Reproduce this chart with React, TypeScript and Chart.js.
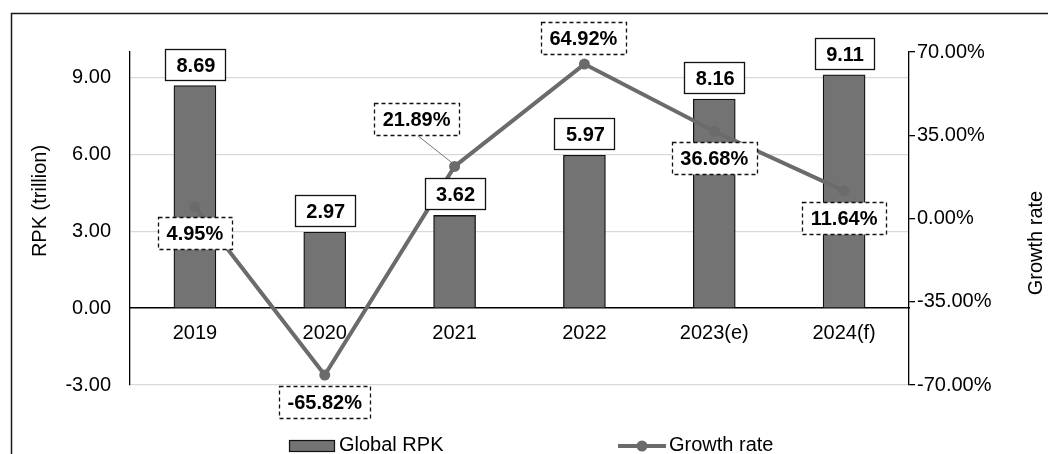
import { useEffect, useRef } from 'react';
import { Chart, registerables } from 'chart.js';

Chart.register(...registerables);

const categories = ['2019', '2020', '2021', '2022', '2023(e)', '2024(f)'];
const rpkValues = [8.69, 2.97, 3.62, 5.97, 8.16, 9.11];
const growthRates = [4.95, -65.82, 21.89, 64.92, 36.68, 11.64];
const rpkTicks = [-3, 0, 3, 6, 9];
const growthTicks = [-70, -35, 0, 35, 70];

const W = 1048;
const H = 454;
const FONT = "'Liberation Sans', Arial, sans-serif";
const BAR_COLOR = '#737373';
const LINE_COLOR = '#6b6b6b';

// Where each growth-rate callout sits, relative to its point (box centre offset in px)
const growthLabelOffsets = [
  { dx: 0, dy: 26, leader: false },
  { dx: 0, dy: 27, leader: false },
  { dx: -38, dy: -47, leader: true },
  { dx: -1, dy: -26, leader: false },
  { dx: 0, dy: 27, leader: false },
  { dx: 0, dy: 27, leader: false },
];

const framePlugin = {
  id: 'frame',
  beforeDraw(chart: any) {
    const ctx = chart.ctx;
    ctx.save();
    ctx.fillStyle = '#ffffff';
    ctx.fillRect(0, 0, W, H);
    ctx.strokeStyle = '#1a1a1a';
    ctx.lineWidth = 1.5;
    ctx.strokeRect(11.5, 13.5, W + 40, H + 40);
    ctx.restore();
  },
};

const titlesPlugin = {
  id: 'axisTitles',
  afterDraw(chart: any) {
    const ctx = chart.ctx;
    ctx.save();
    ctx.font = `20px ${FONT}`;
    ctx.fillStyle = '#000';
    ctx.textAlign = 'center';
    ctx.textBaseline = 'middle';

    ctx.save();
    ctx.translate(40, 201);
    ctx.rotate(-Math.PI / 2);
    ctx.fillText('RPK (trillion)', 0, 0);
    ctx.restore();

    ctx.save();
    ctx.translate(1036, 243);
    ctx.rotate(-Math.PI / 2);
    ctx.fillText('Growth rate', 0, 0);
    ctx.restore();

    ctx.restore();
  },
};

const legendPlugin = {
  id: 'bottomLegend',
  afterDraw(chart: any) {
    const ctx = chart.ctx;
    ctx.save();
    // bar swatch
    ctx.fillStyle = BAR_COLOR;
    ctx.fillRect(289.5, 440.5, 45, 11);
    ctx.strokeStyle = '#111';
    ctx.lineWidth = 1.2;
    ctx.strokeRect(289.5, 440.5, 45, 11);
    // line swatch
    ctx.strokeStyle = LINE_COLOR;
    ctx.lineWidth = 4;
    ctx.beginPath();
    ctx.moveTo(618, 446);
    ctx.lineTo(666, 446);
    ctx.stroke();
    ctx.fillStyle = LINE_COLOR;
    ctx.beginPath();
    ctx.arc(642, 446, 5.5, 0, Math.PI * 2);
    ctx.fill();

    ctx.font = `20px ${FONT}`;
    ctx.fillStyle = '#000';
    ctx.textAlign = 'left';
    ctx.textBaseline = 'middle';
    ctx.fillText(chart.data.datasets[0].label, 339, 445);
    ctx.fillText(chart.data.datasets[1].label, 669, 445);
    ctx.restore();
  },
};

const valueLabelsPlugin = {
  id: 'valueLabels',
  afterDatasetsDraw(chart: any) {
    const ctx = chart.ctx;
    ctx.save();
    ctx.font = `bold 20px ${FONT}`;
    ctx.textAlign = 'center';
    ctx.textBaseline = 'middle';

    // solid boxes above the bars
    const barMeta = chart.getDatasetMeta(0);
    barMeta.data.forEach((bar: any, i: number) => {
      const text = rpkValues[i].toFixed(2);
      const tw = ctx.measureText(text).width;
      const bw = Math.round(tw + 21);
      const bh = 31;
      const x0 = Math.round(bar.x - bw / 2) + 0.5;
      const y0 = Math.round(bar.y - 6 - bh) + 0.5;
      ctx.setLineDash([]);
      ctx.fillStyle = '#fff';
      ctx.fillRect(x0, y0, bw, bh);
      ctx.strokeStyle = '#111';
      ctx.lineWidth = 1.3;
      ctx.strokeRect(x0, y0, bw, bh);
      ctx.fillStyle = '#000';
      ctx.fillText(text, bar.x + 1, y0 + bh / 2 + 1);
    });

    // dashed callouts for the growth line
    const lineMeta = chart.getDatasetMeta(1);
    lineMeta.data.forEach((pt: any, i: number) => {
      const off = growthLabelOffsets[i];
      const text = growthRates[i].toFixed(2) + '%';
      const tw = ctx.measureText(text).width;
      const bw = Math.round(tw + 17);
      const bh = 32;
      const cx = pt.x + off.dx;
      const cy = pt.y + off.dy;
      const x0 = Math.round(cx - bw / 2) + 0.5;
      const y0 = Math.round(cy - bh / 2) + 0.5;
      if (off.leader) {
        ctx.setLineDash([]);
        ctx.strokeStyle = '#777';
        ctx.lineWidth = 1;
        ctx.beginPath();
        ctx.moveTo(cx + 1, y0 + bh);
        ctx.lineTo(pt.x - 3, pt.y - 4);
        ctx.stroke();
      }
      ctx.fillStyle = '#fff';
      ctx.fillRect(x0, y0, bw, bh);
      ctx.setLineDash([4, 3]);
      ctx.strokeStyle = '#111';
      ctx.lineWidth = 1.3;
      ctx.strokeRect(x0, y0, bw, bh);
      ctx.setLineDash([]);
      ctx.fillStyle = '#000';
      ctx.fillText(text, cx, y0 + bh / 2 + 1);
    });
    ctx.restore();
  },
};

export default function App() {
  const canvasRef = useRef<HTMLCanvasElement | null>(null);

  useEffect(() => {
    if (!canvasRef.current) return;
    const chart = new Chart(canvasRef.current, {
      type: 'bar',
      data: {
        labels: categories,
        datasets: [
          {
            type: 'bar',
            label: 'Global RPK',
            data: rpkValues,
            yAxisID: 'y',
            backgroundColor: BAR_COLOR,
            borderColor: '#111',
            borderWidth: 1.3,
            barThickness: 42,
            order: 1,
          },
          {
            type: 'line',
            label: 'Growth rate',
            data: growthRates,
            yAxisID: 'y1',
            borderColor: LINE_COLOR,
            backgroundColor: LINE_COLOR,
            borderWidth: 4,
            pointRadius: 5.5,
            pointBorderWidth: 0,
            pointBackgroundColor: LINE_COLOR,
            tension: 0,
            order: 0,
          },
        ],
      } as any,
      options: {
        responsive: false,
        devicePixelRatio: 1,
        animation: false,
        events: [],
        layout: { padding: { top: 52, bottom: 69, left: 0, right: 0 } },
        plugins: {
          legend: { display: false },
          tooltip: { enabled: false },
        },
        scales: {
          x: {
            type: 'category',
            position: { y: 0 } as any,
            grid: { display: false, drawTicks: false },
            border: { display: true, color: '#000', width: 1.5 },
            ticks: {
              color: '#000',
              padding: 13,
              font: { family: FONT, size: 20 },
              maxRotation: 0,
              autoSkip: false,
            },
            afterFit: (scale: any) => {
              scale.height = 0;
            },
          },
          y: {
            type: 'linear',
            position: 'left',
            min: -3,
            max: 10,
            afterBuildTicks: (scale: any) => {
              scale.ticks = rpkTicks.map((v) => ({ value: v }));
            },
            afterFit: (scale: any) => {
              scale.width = 130;
            },
            grid: {
              drawTicks: false,
              lineWidth: 1.3,
              color: (c: any) => (c.tick && c.tick.value === 0 ? 'rgba(0,0,0,0)' : '#d9d9d9'),
            },
            border: { display: true, color: '#000', width: 1.3 },
            ticks: {
              color: '#000',
              padding: 19,
              font: { family: FONT, size: 20 },
              callback: (v: any) => Number(v).toFixed(2),
            },
          },
          y1: {
            type: 'linear',
            position: 'right',
            min: -70,
            max: 70,
            afterBuildTicks: (scale: any) => {
              scale.ticks = growthTicks.map((v) => ({ value: v }));
            },
            afterFit: (scale: any) => {
              scale.width = 139;
            },
            grid: {
              drawOnChartArea: false,
              drawTicks: true,
              tickLength: 6,
              color: '#000',
              lineWidth: 1.3,
            },
            border: { display: true, color: '#000', width: 1.3 },
            ticks: {
              color: '#000',
              padding: 2,
              font: { family: FONT, size: 20 },
              callback: (v: any) => Number(v).toFixed(2) + '%',
            },
          },
        },
      } as any,
      plugins: [framePlugin, valueLabelsPlugin, titlesPlugin, legendPlugin],
    });
    return () => chart.destroy();
  }, []);

  return (
    <div style={{ position: 'fixed', left: 0, top: 0, width: W, height: H, background: '#fff' }}>
      <canvas ref={canvasRef} width={W} height={H} style={{ display: 'block', width: W, height: H }} />
    </div>
  );
}
